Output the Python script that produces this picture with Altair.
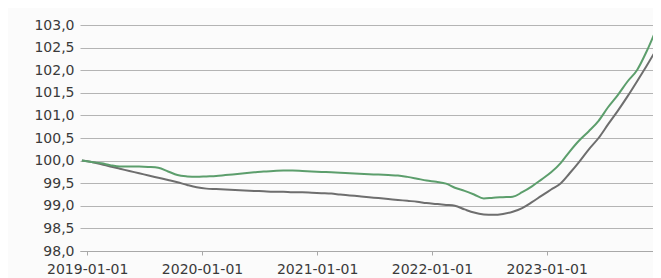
import altair as alt
import pandas as pd

dates = [d.strftime("%Y-%m-") + "15" for d in pd.date_range("2018-12-01", periods=61, freq="MS")]

green = [100.00, 99.97, 99.94, 99.90, 99.87, 99.87, 99.87, 99.86, 99.84, 99.76,
         99.68, 99.65, 99.64, 99.65, 99.66, 99.68, 99.70, 99.72, 99.74, 99.76,
         99.77, 99.78, 99.78, 99.77, 99.76, 99.75, 99.74, 99.73, 99.72, 99.71,
         99.70, 99.69, 99.68, 99.67, 99.64, 99.60, 99.56, 99.53, 99.49, 99.40,
         99.33, 99.25, 99.16, 99.18, 99.19, 99.20, 99.30, 99.43, 99.58, 99.74,
         99.95, 100.20, 100.45, 100.65, 100.88, 101.18, 101.45, 101.75, 102.00, 102.42,
         102.90]
gray = [100.00, 99.97, 99.92, 99.87, 99.82, 99.77, 99.72, 99.67, 99.62, 99.57,
        99.52, 99.46, 99.41, 99.38, 99.37, 99.36, 99.35, 99.34, 99.33, 99.32,
        99.31, 99.31, 99.30, 99.30, 99.29, 99.28, 99.27, 99.25, 99.23, 99.21,
        99.19, 99.17, 99.15, 99.13, 99.11, 99.09, 99.06, 99.04, 99.02, 99.00,
        98.92, 98.85, 98.81, 98.80, 98.82, 98.87, 98.95, 99.08, 99.22, 99.36,
        99.50, 99.72, 99.98, 100.25, 100.50, 100.80, 101.10, 101.42, 101.75, 102.10,
        102.45]

series_names = ["A", "B"]
colors = ["#5c9e6c", "#6e6e6e"]
y_ticks = [98.0, 98.5, 99.0, 99.5, 100.0, 100.5, 101.0, 101.5, 102.0, 102.5, 103.0]
x_tick_years = [2019, 2020, 2021, 2022, 2023]

df = pd.concat([
    pd.DataFrame({"date": dates, "value": gray, "series": series_names[1]}),
    pd.DataFrame({"date": dates, "value": green, "series": series_names[0]}),
])

font = "DejaVu Sans"

chart = alt.Chart(df).mark_line(strokeWidth=2, clip=True, interpolate="monotone").encode(
    x=alt.X("date:T",
            scale=alt.Scale(type="utc",
                            domain=[alt.DateTime(year=2018, month=12, date=9, utc=True),
                                    alt.DateTime(year=2023, month=12, date=5, utc=True)]),
            axis=alt.Axis(values=[alt.DateTime(year=y, month=1, date=1, utc=True) for y in x_tick_years],
                          labelExpr="utcFormat(datum.value, '%Y-%m-%d')",
                          grid=False, domain=True, domainColor="#a8a8a8", domainWidth=1.2,
                          tickColor="#a8a8a8", tickSize=4, labelFont=font, labelFontSize=14,
                          labelColor="#3a3a3a", labelPadding=7, title=None)),
    y=alt.Y("value:Q",
            scale=alt.Scale(domain=[98, 103], nice=False, zero=False),
            axis=alt.Axis(values=y_ticks,
                          labelExpr="replace(format(datum.value, '.1f'), '.', ',')",
                          grid=True, gridColor="#b4b4b4", gridWidth=1.2, domain=False,
                          ticks=False, labelFont=font, labelFontSize=14, labelColor="#3a3a3a",
                          labelPadding=6, title=None)),
    color=alt.Color("series:N", scale=alt.Scale(domain=series_names, range=colors), legend=None),
    order=alt.Order("series:N", sort="descending"),
).properties(
    width=573, height=226,
    autosize=alt.AutoSizeParams(type="none"),
    padding={"left": 72, "top": 17, "right": 0, "bottom": 27},
    background="#fbfbfb",
).configure_view(stroke=None)

chart.save("out.html", embed_options={"renderer": "svg", "actions": False})
